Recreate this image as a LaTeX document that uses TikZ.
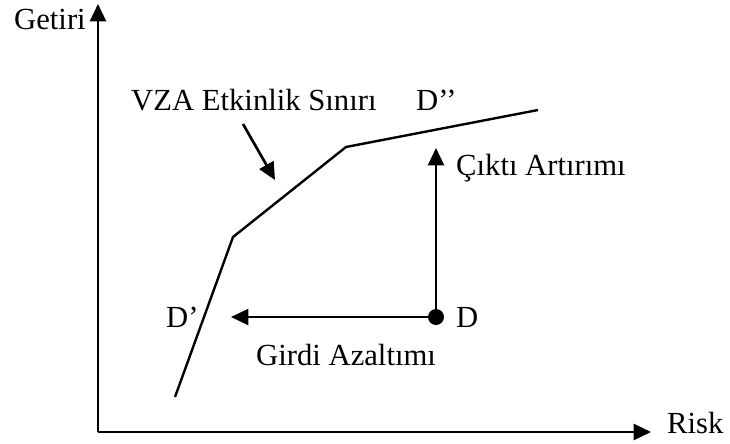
\documentclass[tikz,border=0pt]{standalone}
\usepackage{fontspec}
\setmainfont{Liberation Serif}
\usetikzlibrary{arrows.meta}
\begin{document}
\begin{tikzpicture}[x=0.75pt,y=-0.75pt,line width=1.8pt,
  font=\fontsize{23}{27}\selectfont,
  tip/.style={-{Triangle[length=13pt,width=12pt]}},
  lbl/.style={inner sep=0pt,anchor=west}]
  \useasboundingbox (0,0) rectangle (730,443);
  % eksenler
  \coordinate (o) at (98,432);
  \coordinate (ytop) at (98,4);
  \coordinate (xend) at (651,432);
  \draw[tip] (o) -- (ytop);
  \draw[tip] (o) -- (xend);
  \node[lbl] (getiri) at (13,19) {Getiri};
  \node[lbl] (risk) at (666,423) {Risk};
  % etkinlik sınırı
  \coordinate (f1) at (175,397);
  \coordinate (f2) at (233,237);
  \coordinate (f3) at (346,147);
  \coordinate (f4) at (538,110);
  \draw (f1) -- (f2) -- (f3) -- (f4);
  \node[lbl] (vza) at (130,100) {VZA Etkinlik Sınırı};
  \coordinate (vzatip) at (275,180);
  \draw[tip,line width=2pt] (243,124) -- (vzatip);
  % D noktası
  \node[circle,fill,inner sep=0pt,minimum size=12pt] (d) at (436,317) {};
  \coordinate (dup) at (436,148);
  \coordinate (dleft) at (231,317);
  \draw[tip] (d.center) -- (dup);
  \draw[tip] (d.center) -- (dleft);
  \node[lbl] (dlab) at (455,317) {D};
  \node[lbl] (d1) at (165,317) {D’};
  \node[lbl] (d2) at (415,100) {D’’};
  \node[lbl] (cikti) at (455,168) {Çıktı Artırımı};
  \node[lbl] (girdi) at (255,355) {Girdi Azaltımı};
\end{tikzpicture}
\end{document}
